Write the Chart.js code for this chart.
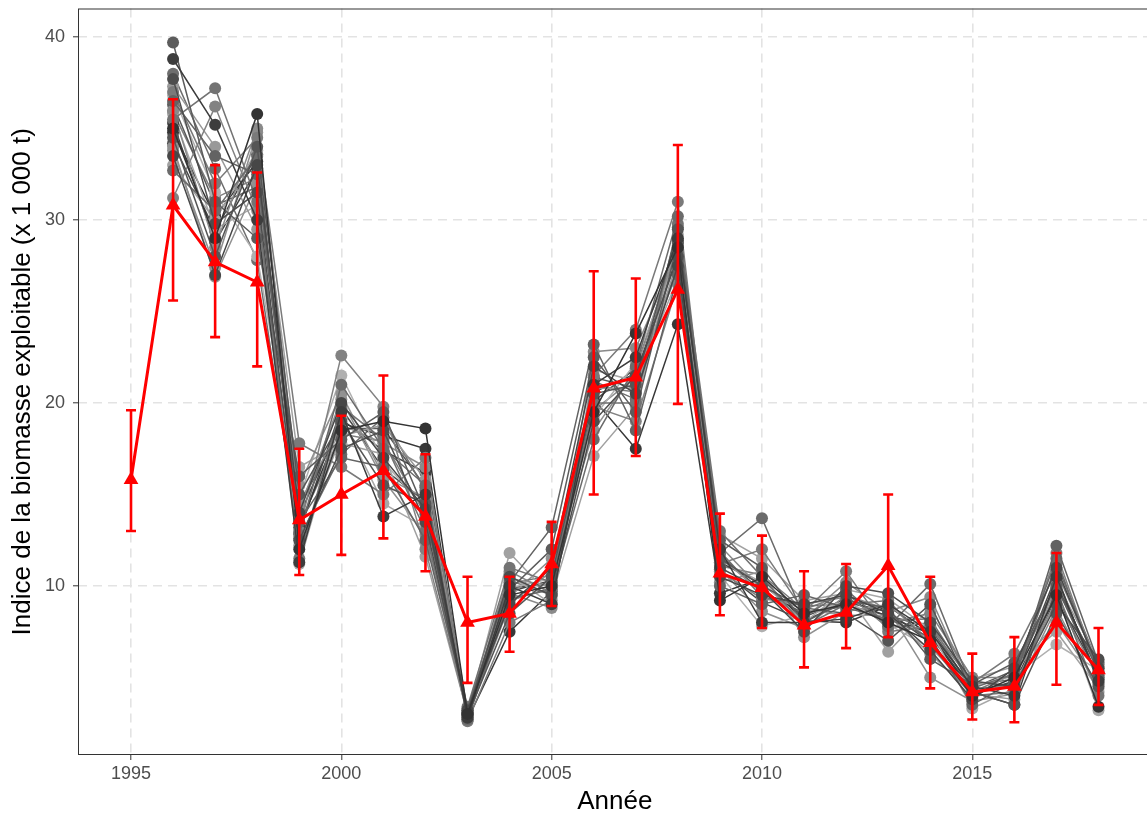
<!DOCTYPE html>
<html>
<head>
<meta charset="utf-8">
<script src="https://cdn.jsdelivr.net/npm/chart.js@4.4.1/dist/chart.umd.min.js"></script>
<style>
    html, body { margin: 0; padding: 0; overflow: hidden; background: #fff; }
    #wrap { position: relative; width: 1160px; height: 818px; }
</style>
</head>
<body>
<div id="wrap"><canvas id="chart" width="1160" height="818"></canvas></div>
<script>
// Années et série de référence (rouge) avec intervalles
const years = [1995, 1996, 1997, 1998, 1999, 2000, 2001, 2002, 2003, 2004, 2005, 2006,
    2007, 2008, 2009, 2010, 2011, 2012, 2013, 2014, 2015, 2016, 2017, 2018];
const redMean = [15.8, 30.8, 27.7, 26.6, 13.6, 15.0, 16.3, 13.8, 8.0, 8.5, 11.2, 20.8,
    21.4, 26.2, 10.7, 9.9, 7.85, 8.55, 11.1, 6.9, 4.2, 4.5, 8.0, 5.4];
const redLow = [13.0, 25.6, 23.6, 22.0, 10.6, 11.7, 12.6, 10.8, 4.7, 6.4, 8.9, 15.0,
    17.1, 19.95, 8.4, 7.7, 5.55, 6.6, 7.2, 4.4, 2.7, 2.55, 4.6, 3.5];
const redHigh = [19.6, 36.6, 33.0, 32.6, 17.5, 19.3, 21.5, 17.2, 10.5, 10.5, 13.5, 27.2,
    26.8, 34.1, 13.95, 12.75, 10.8, 11.2, 15.0, 10.5, 6.3, 7.2, 11.8, 7.7];

// Séries grises (1996-2018)
const grayYears = years.slice(1);
const graySeries = [
    [35.0, 29.0, 35.8, 12.0, 18.5, 19.0, 18.6, 3.0, 9.5, 10.0, 19.5, 23.8, 28.5, 9.2, 10.5, 8.5, 9.0, 8.0, 7.0, 4.0, 5.0, 9.5, 3.4],
    [38.8, 35.2, 30.0, 11.3, 19.5, 13.8, 15.0, 2.8, 10.0, 9.0, 21.0, 22.5, 29.0, 12.0, 8.0, 8.0, 8.2, 9.0, 7.5, 4.5, 4.0, 10.5, 4.8],
    [33.5, 27.0, 33.0, 14.0, 20.0, 17.0, 14.2, 3.2, 9.0, 11.0, 22.0, 20.5, 27.5, 10.5, 9.5, 9.0, 9.5, 8.5, 6.5, 3.8, 5.5, 11.0, 5.5],
    [37.7, 29.8, 31.5, 12.5, 17.5, 18.5, 13.5, 3.0, 10.5, 9.5, 19.0, 21.5, 28.0, 11.0, 9.8, 7.5, 10.0, 9.6, 8.0, 4.8, 4.5, 9.0, 6.0],
    [34.5, 28.0, 34.0, 15.0, 19.0, 15.5, 14.5, 2.9, 8.5, 10.5, 20.5, 21.0, 29.5, 11.5, 10.0, 8.8, 8.5, 7.0, 9.0, 4.2, 3.5, 8.5, 4.5],
    [39.7, 31.0, 29.0, 16.0, 18.0, 19.5, 14.0, 3.1, 9.8, 12.0, 22.5, 19.5, 28.8, 12.5, 11.0, 8.0, 9.2, 8.8, 6.0, 4.6, 5.8, 10.0, 5.0],
    [36.5, 33.5, 32.5, 13.5, 17.0, 16.5, 12.5, 3.3, 10.2, 13.2, 23.2, 18.5, 27.0, 10.0, 9.0, 9.5, 8.8, 8.2, 7.2, 3.5, 4.8, 12.2, 5.8],
    [32.7, 30.5, 33.5, 12.8, 21.0, 17.5, 15.5, 2.7, 9.3, 9.8, 18.0, 22.0, 30.2, 11.8, 13.7, 8.3, 9.8, 7.8, 10.1, 4.4, 5.2, 11.5, 5.2],
    [35.5, 37.2, 31.0, 11.5, 19.8, 18.0, 13.0, 3.4, 11.0, 10.2, 20.0, 20.0, 29.8, 13.0, 10.5, 7.8, 9.0, 9.2, 6.8, 4.0, 4.2, 9.8, 4.0],
    [37.0, 32.0, 34.5, 17.8, 16.5, 15.0, 17.0, 2.6, 8.0, 9.2, 21.5, 24.0, 31.0, 11.2, 12.0, 8.6, 10.8, 7.5, 7.8, 4.7, 6.3, 10.8, 5.6],
    [31.2, 36.2, 30.5, 13.0, 22.6, 19.8, 12.0, 3.0, 10.8, 9.6, 19.8, 19.0, 26.5, 10.8, 9.3, 9.0, 9.4, 8.0, 8.5, 5.0, 5.0, 11.8, 5.3],
    [36.0, 28.5, 35.0, 14.5, 18.8, 17.8, 16.5, 3.2, 9.6, 8.8, 22.8, 23.0, 28.2, 12.2, 9.8, 8.2, 10.2, 8.6, 9.4, 4.3, 4.6, 9.2, 5.0],
    [34.0, 26.9, 32.0, 15.5, 20.5, 16.0, 14.8, 2.8, 9.0, 10.8, 18.5, 21.8, 28.6, 10.2, 10.8, 7.2, 8.6, 9.0, 7.0, 3.9, 5.3, 8.0, 4.6],
    [37.3, 34.0, 29.5, 12.2, 18.2, 18.8, 15.8, 3.1, 10.4, 10.0, 20.8, 20.8, 27.8, 11.6, 9.6, 8.7, 8.4, 8.4, 6.3, 4.1, 3.8, 10.2, 5.9],
    [33.0, 30.0, 33.8, 16.5, 17.8, 17.2, 11.6, 3.0, 11.8, 9.4, 17.1, 19.8, 29.2, 12.8, 11.5, 9.2, 9.6, 6.4, 8.8, 4.9, 5.6, 7.5, 4.4],
    [35.8, 29.5, 30.8, 11.2, 19.2, 14.5, 13.2, 2.9, 10.6, 9.0, 21.8, 21.2, 26.8, 11.4, 10.2, 8.0, 9.8, 9.3, 7.6, 3.3, 4.4, 9.6, 3.2],
    [36.8, 31.5, 28.0, 14.8, 21.5, 16.8, 14.2, 3.2, 9.9, 10.4, 19.2, 22.2, 28.3, 10.6, 7.8, 8.4, 9.2, 7.9, 6.6, 4.5, 5.1, 6.8, 5.4],
    [34.8, 30.2, 33.2, 13.2, 18.9, 18.2, 17.5, 2.7, 7.5, 9.7, 20.2, 17.5, 24.3, 9.6, 10.4, 8.1, 8.0, 8.9, 7.3, 4.2, 3.5, 10.4, 4.9],
    [38.0, 32.8, 27.8, 12.6, 17.2, 19.2, 15.2, 3.0, 10.1, 10.6, 21.2, 20.2, 29.6, 11.9, 9.4, 8.9, 9.0, 8.1, 8.2, 4.6, 4.9, 11.2, 5.7],
    [33.8, 27.4, 34.8, 14.2, 20.2, 15.8, 12.8, 2.9, 9.4, 11.5, 19.6, 21.4, 27.2, 10.9, 8.6, 7.7, 9.5, 8.7, 5.0, 3.7, 4.1, 8.8, 4.2],
    [35.3, 28.8, 32.8, 13.8, 19.1, 17.4, 16.2, 3.1, 9.7, 10.3, 20.6, 21.6, 28.1, 11.3, 10.1, 8.3, 9.3, 8.3, 7.4, 4.3, 4.7, 9.4, 5.1],
    [36.3, 30.8, 31.8, 14.4, 18.6, 18.6, 15.4, 2.9, 9.2, 9.9, 21.4, 20.8, 28.9, 11.7, 9.7, 8.5, 8.9, 8.4, 7.7, 4.4, 5.4, 10.1, 5.3],
    [34.2, 29.4, 33.6, 12.9, 19.7, 16.4, 14.6, 3.0, 9.9, 10.1, 20.1, 21.9, 28.7, 10.9, 9.1, 8.1, 9.1, 8.6, 6.9, 4.1, 4.8, 10.6, 4.7],
    [35.9, 31.2, 32.3, 13.4, 18.3, 17.9, 13.9, 3.1, 10.3, 9.5, 20.9, 20.6, 27.6, 11.1, 10.6, 8.7, 9.6, 7.7, 8.0, 4.2, 5.2, 9.9, 5.5]
];

// Graduations des axes
const xTicks = [1995, 2000, 2005, 2010, 2015];
const yTicks = [10, 20, 30, 40];

// Nuances de gris pour chaque série
const grayShades = ['#333333', '#3d3d3d', '#474747', '#4d4d4d', '#555555', '#5c5c5c', '#636363',
    '#6b6b6b', '#737373', '#7a7a7a', '#828282', '#8a8a8a', '#919191', '#999999', '#a1a1a1',
    '#a8a8a8', '#b0b0b0', '#383838', '#6e6e6e', '#8f8f8f', '#424242', '#595959', '#4a4a4a', '#7d7d7d'];

const FONT = "'Liberation Sans', Arial, sans-serif";

const datasets = [{
    label: 'Référence',
    data: years.map((yr, i) => ({ x: yr, y: redMean[i] })),
    borderColor: '#ff0000',
    backgroundColor: '#ff0000',
    borderWidth: 3,
    pointStyle: 'triangle',
    pointRadius: 8.5,
    pointBorderWidth: 0,
    order: 0
}];

graySeries.forEach((serie, idx) => {
    const col = grayShades[idx % grayShades.length];
    datasets.push({
        label: 'Série ' + (idx + 1),
        data: grayYears.map((yr, i) => ({ x: yr, y: serie[i] })),
        borderColor: col,
        backgroundColor: col,
        borderWidth: 1.5,
        pointRadius: 6,
        pointBorderWidth: 0,
        order: 1
    });
});

// Barres d'erreur + cadre du panneau
const errorBars = {
    id: 'errorBars',
    beforeDatasetDraw(chart, args) {
        if (args.index !== 0) return;
        const { ctx, scales: { x, y } } = chart;
        ctx.save();
        ctx.strokeStyle = '#ff0000';
        ctx.lineWidth = 2.6;
        years.forEach((yr, i) => {
            const px = x.getPixelForValue(yr);
            const top = y.getPixelForValue(redHigh[i]);
            const bot = y.getPixelForValue(redLow[i]);
            ctx.beginPath();
            ctx.moveTo(px, top); ctx.lineTo(px, bot);
            ctx.moveTo(px - 5, top); ctx.lineTo(px + 5, top);
            ctx.moveTo(px - 5, bot); ctx.lineTo(px + 5, bot);
            ctx.stroke();
        });
        ctx.restore();
    },
    afterDraw(chart) {
        const { ctx, chartArea: a } = chart;
        ctx.save();
        ctx.strokeStyle = '#333333';
        ctx.lineWidth = 1;
        ctx.strokeRect(a.left + 0.5, a.top + 0.5, a.right - a.left - 1, a.bottom - a.top - 1);
        ctx.restore();
    }
};

new Chart(document.getElementById('chart').getContext('2d'), {
    type: 'line',
    data: { datasets },
    plugins: [errorBars],
    options: {
        responsive: false,
        animation: false,
        layout: { padding: { left: 0, top: 3, right: 5, bottom: 0 } },
        plugins: { legend: { display: false }, tooltip: { enabled: false } },
        elements: { line: { tension: 0 } },
        scales: {
            x: {
                type: 'linear',
                min: 1993.74,
                max: 2019.26,
                afterFit: s => { s.height = 63; s.paddingLeft = 0; s.paddingRight = 0; },
                afterBuildTicks: s => { s.ticks = xTicks.map(v => ({ value: v })); },
                grid: { color: '#e3e3e3', lineWidth: 1.6, tickColor: '#333333', tickLength: 5, tickWidth: 1 },
                border: { display: false, dash: [9, 6] },
                ticks: {
                    color: '#4d4d4d', padding: 3, maxRotation: 0,
                    font: { family: FONT, size: 18 },
                    callback: v => String(v)
                },
                title: {
                    display: true, text: 'Année', color: '#000',
                    font: { family: FONT, size: 26 }, padding: { top: 0, bottom: 1 }
                }
            },
            y: {
                min: 0.76,
                max: 41.56,
                afterFit: s => { s.width = 78; s.paddingTop = 0; s.paddingBottom = 0; },
                afterBuildTicks: s => { s.ticks = yTicks.map(v => ({ value: v })); },
                grid: { color: '#e3e3e3', lineWidth: 1.6, tickColor: '#333333', tickLength: 5, tickWidth: 1 },
                border: { display: false, dash: [9, 6] },
                ticks: {
                    color: '#4d4d4d', padding: 8,
                    font: { family: FONT, size: 18 }
                },
                title: {
                    display: true, text: 'Indice de la biomasse exploitable (x 1 000 t)', color: '#000',
                    font: { family: FONT, size: 26 }, padding: { top: 7, bottom: 0 }
                }
            }
        }
    }
});
</script>
</body>
</html>
